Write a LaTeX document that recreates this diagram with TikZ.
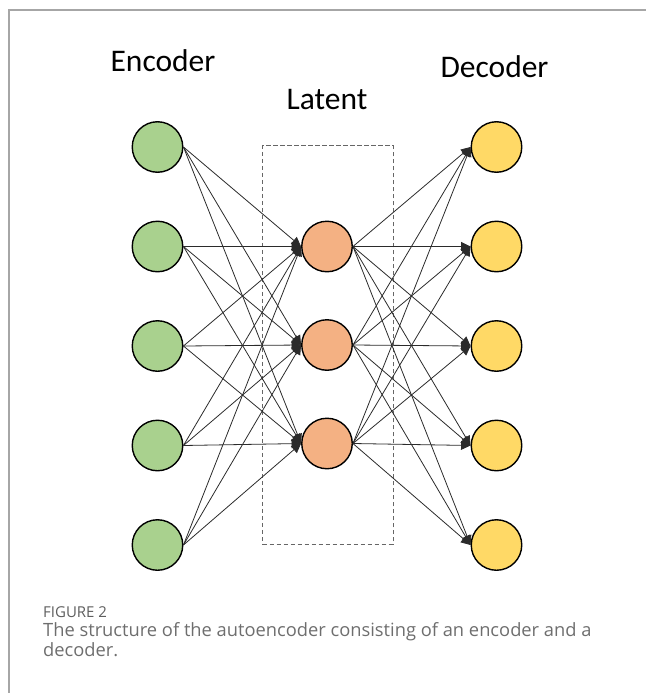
\documentclass[tikz,border=0pt]{standalone}
\usepackage{fontspec}
\setmainfont{Carlito}
\newfontfamily\capfont{Open Sans}
\usetikzlibrary{arrows.meta}
\definecolor{encg}{HTML}{A9D18E}
\definecolor{latorange}{HTML}{F4B183}
\definecolor{decy}{HTML}{FFD966}
\definecolor{edgec}{HTML}{2B2B2B}
\definecolor{framec}{HTML}{A6A6A6}
\definecolor{capc}{HTML}{6E6E6E}
\tikzset{
  neuron/.style={circle, draw=black, line width=1.4pt, minimum size=50.5pt, inner sep=0pt},
  enc/.style={neuron, fill=encg},
  lat/.style={neuron, fill=latorange},
  dec/.style={neuron, fill=decy},
  wire/.style={draw=edgec, line width=0.8pt, -{Triangle[length=9.5pt,width=9pt]}},
  title/.style={font=\fontsize{31.5}{36}\selectfont, anchor=base, inner sep=0pt},
  latbox/.style={draw=black!60, line width=1pt, dash pattern=on 4.5pt off 2.5pt}
}
\begin{document}
\begin{tikzpicture}[x=1pt,y=-1pt]
\useasboundingbox (0,0) rectangle (646,693);
% frame
\draw[framec, line width=1.2pt] (9,693) -- (9,10) -- (646,10);
% titles
\node[title] (tenc) at (163,71.7) {Encoder};
\node[title] (tlat) at (327,109.3) {Latent};
\node[title] (tdec) at (494.5,77.7) {Decoder};
% latent box
\node[latbox, minimum width=130.3pt, minimum height=398.3pt, inner sep=0pt] (box) at (327.85,344.85) {};
% nodes
\foreach \i/\y in {1/147,2/246.5,3/346,4/445.5,5/545}{
  \node[enc] (e\i) at (157.5,\y) {};
  \node[dec] (d\i) at (496.5,\y) {};
}
\foreach \i/\y in {1/246.5,2/345,3/443.5}{
  \node[lat] (l\i) at (327,\y) {};
}
% connections
\foreach \i in {1,...,5}{
  \foreach \j in {1,2,3}{
    \draw[wire] (e\i.east) -- (l\j.west);
    \draw[wire] (l\j.east) -- (d\i.west);
  }
}
% caption
\node[anchor=base west, inner sep=0pt, text=capc!85!black, font=\capfont\fontsize{15}{17}\selectfont] (fig) at (43,617.7) {FIGURE 2};
\node[anchor=base west, inner sep=0pt, text=capc, font=\capfont\fontsize{18.3}{20.5}\selectfont, align=left] (cap) at (43,656.5) {The structure of the autoencoder consisting of an encoder and a\\decoder.};
\end{tikzpicture}
\end{document}
